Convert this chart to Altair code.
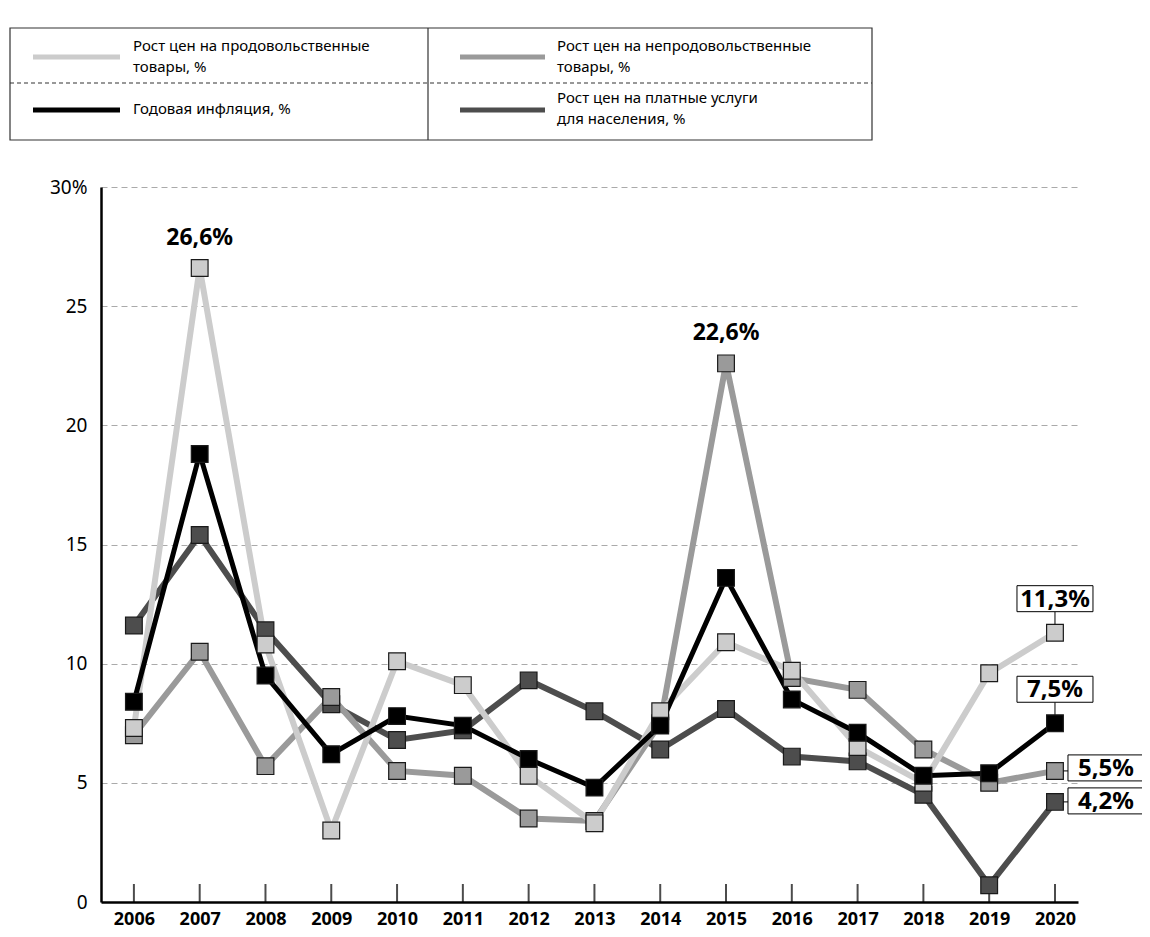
import altair as alt
import pandas as pd

FONT = "Noto Sans"

years = list(range(2006, 2021))
food = [7.3, 26.6, 10.8, 3.0, 10.1, 9.1, 5.3, 3.3, 8.0, 10.9, 9.7, 6.5, 5.0, 9.6, 11.3]
nonfood = [7.0, 10.5, 5.7, 8.6, 5.5, 5.3, 3.5, 3.4, 7.5, 22.6, 9.4, 8.9, 6.4, 5.0, 5.5]
inflation = [8.4, 18.8, 9.5, 6.2, 7.8, 7.4, 6.0, 4.8, 7.4, 13.6, 8.5, 7.1, 5.3, 5.4, 7.5]
services = [11.6, 15.4, 11.4, 8.3, 6.8, 7.2, 9.3, 8.0, 6.4, 8.1, 6.1, 5.9, 4.5, 0.7, 4.2]

y_ticks = [0, 5, 10, 15, 20, 25, 30]

series_order = ["services", "nonfood", "food", "inflation"]
series_values = {"food": food, "nonfood": nonfood, "inflation": inflation, "services": services}
series_colors = {"food": "#cccccc", "nonfood": "#9a9a9a", "inflation": "#000000", "services": "#4d4d4d"}
series_widths = {"food": 6, "nonfood": 6, "inflation": 5, "services": 6}
legend_text = {
    "food": ["Рост цен на продовольственные", "товары, %"],
    "nonfood": ["Рост цен на непродовольственные", "товары, %"],
    "inflation": ["Годовая инфляция, %"],
    "services": ["Рост цен на платные услуги", "для населения, %"],
}


def fmt(v):
    return f"{v:.1f}".replace(".", ",") + "%"


rows = []
for k in series_order:
    for yr, v in zip(years, series_values[k]):
        rows.append({"year": yr, "value": v, "series": k})
df = pd.DataFrame(rows)

X = alt.X(
    "year:Q",
    scale=alt.Scale(domain=[2005.5, 2020.35], nice=False, zero=False),
    axis=alt.Axis(
        values=years, format="d", title=None, grid=False, ticks=False,
        domainColor="black", domainWidth=2.5, labelFont=FONT, labelFontSize=18,
        labelFontWeight="bold", labelColor="black", labelPadding=8,
        labelFlush=False, labelOverlap=False,
    ),
)
Y = alt.Y(
    "value:Q",
    scale=alt.Scale(domain=[0, 30], nice=False),
    axis=alt.Axis(
        values=y_ticks, title=None, ticks=False, grid=True, gridDash=[6, 4],
        gridColor="#aaaaaa", gridWidth=1, domainColor="black", domainWidth=2.5,
        labelFont=FONT, labelFontSize=19, labelColor="black", labelPadding=14,
        labelExpr="datum.value == 30 ? '30%' : datum.label",
    ),
)

layers = []

# upward ticks on x axis
tick_df = pd.DataFrame({"year": years, "value": [0] * len(years)})
layers.append(
    alt.Chart(tick_df).mark_tick(orient="vertical", size=18, thickness=2, yOffset=-9, color="black")
    .encode(x=X, y=Y)
)

for k in series_order:
    d = df[df.series == k]
    layers.append(
        alt.Chart(d).mark_line(color=series_colors[k], strokeWidth=series_widths[k])
        .encode(x=X, y=Y)
    )
for k in series_order:
    d = df[df.series == k]
    layers.append(
        alt.Chart(d).mark_square(size=280, filled=True, fill=series_colors[k], stroke="#1a1a1a",
                                 strokeWidth=1.2, opacity=1)
        .encode(x=X, y=Y)
    )

# peak labels
peak_df = pd.DataFrame({
    "year": [years[food.index(max(food))], years[nonfood.index(max(nonfood))]],
    "value": [max(food), max(nonfood)],
})
peak_df["label"] = peak_df["value"].map(fmt)
layers.append(
    alt.Chart(peak_df).mark_text(dy=-30, fontSize=23, fontWeight="bold", font=FONT, color="black")
    .encode(x=X, y=Y, text="label:N")
)

# boxed end labels: (series, box center dx, dy, connector)
end_specs = [
    ("food", 0, -34, "up"),
    ("inflation", 0, -34, "up"),
    ("nonfood", 51, -3, "right"),
    ("services", 51, -1, "right"),
]
BW, BH = 76, 26
for k, cx, cy, kind in end_specs:
    d = pd.DataFrame({"year": [years[-1]], "value": [series_values[k][-1]]})
    d["label"] = d["value"].map(fmt)
    if kind == "up":
        conn = alt.Chart(d).mark_rule(color="black", strokeWidth=1, yOffset=cy + BH / 2, y2Offset=-8.5).encode(
            x=X, y=Y, y2="value:Q")
    else:
        conn = alt.Chart(d).mark_rule(color="black", strokeWidth=1, xOffset=8.5, x2Offset=cx - BW / 2).encode(
            x=X, x2="year:Q", y=Y)
    box = alt.Chart(d).mark_rect(
        fill="white", stroke="black", strokeWidth=1,
        xOffset=cx - BW / 2, x2Offset=cx + BW / 2, yOffset=cy - BH / 2, y2Offset=cy + BH / 2,
    ).encode(x=X, x2="year:Q", y=Y, y2="value:Q")
    txt = alt.Chart(d).mark_text(
        dx=cx, dy=cy + 1, fontSize=24, fontWeight="bold", font=FONT, color="black",
        align="center", baseline="middle",
    ).encode(x=X, y=Y, text="label:N")
    layers += [conn, box, txt]

# legend box (pixel positions relative to plot origin)
one = pd.DataFrame({"a": [0]})
L, R, T, B, MID_X, MID_Y = -91, 771, -159, -47, 327, -104
layers.append(alt.Chart(one).mark_rect(fill="white", stroke="#333333", strokeWidth=1.2).encode(
    x=alt.value(L), x2=alt.value(R), y=alt.value(T), y2=alt.value(B)))
layers.append(alt.Chart(one).mark_rule(color="#333333", strokeWidth=1.2).encode(
    x=alt.value(MID_X), y=alt.value(T), y2=alt.value(B)))
layers.append(alt.Chart(one).mark_rule(color="#333333", strokeWidth=1.2, strokeDash=[4, 3]).encode(
    x=alt.value(L), x2=alt.value(R), y=alt.value(MID_Y)))

legend_pos = {
    "food": (-68, 19, -130, 32, [-141, -120]),
    "nonfood": (359, 444, -130, 456, [-141, -120]),
    "inflation": (-68, 19, -77, 32, [-78]),
    "services": (359, 444, -77, 456, [-89, -68]),
}
for k, (x1, x2, ly, tx, tys) in legend_pos.items():
    layers.append(alt.Chart(one).mark_rule(color=series_colors[k], strokeWidth=5).encode(
        x=alt.value(x1), x2=alt.value(x2), y=alt.value(ly)))
    for line, ty in zip(legend_text[k], tys):
        layers.append(alt.Chart(one).mark_text(
            align="left", baseline="middle", fontSize=15, font=FONT, color="black").encode(
            x=alt.value(tx), y=alt.value(ty), text=alt.value(line)))

chart = alt.layer(*layers).properties(
    width=977, height=715,
    autosize=alt.AutoSizeParams(type="none"),
    padding={"left": 93, "top": 179, "right": 64, "bottom": 27},
).configure_view(stroke=None)

chart.save("out.html", embed_options={"renderer": "svg", "actions": False})
